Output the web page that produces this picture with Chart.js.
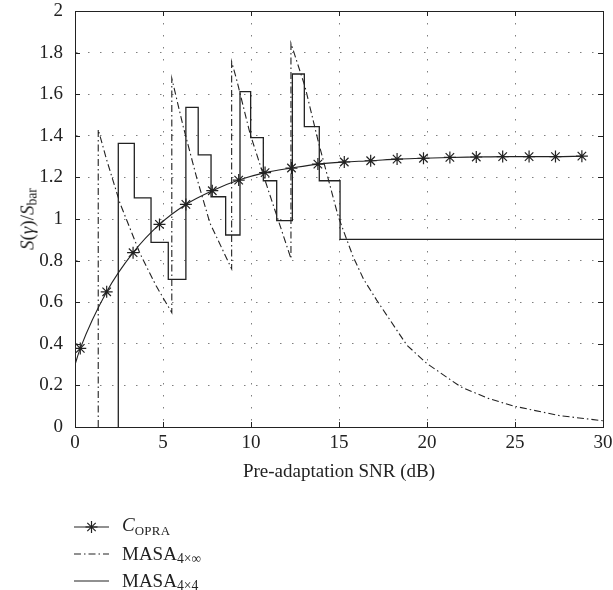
<!DOCTYPE html>
<html>
<head>
<meta charset="utf-8">
<script src="https://cdn.jsdelivr.net/npm/chart.js@4.4.1/dist/chart.umd.min.js"></script>
<style>
  html, body { margin: 0; padding: 0; background: #fff; }
  #wrap { position: relative; width: 613px; height: 590px; font-family: "Liberation Serif", serif; color: #222; }
  #chart { position: absolute; left: 0; top: 0; }
  .ytitle { position: absolute; left: 27px; top: 219px; transform: translate(-50%, -50%) rotate(-90deg); font-size: 19px; white-space: nowrap; line-height: 1; }
  .legend { position: absolute; left: 74px; top: 513px; font-size: 19px; line-height: 1; }
  .row { display: flex; align-items: center; height: 27px; }
  .row svg { margin-right: 13px; flex: none; }
  sub { font-size: 0.72em; vertical-align: -0.25em; line-height: 0; }
  .sc { font-size: 0.68em; vertical-align: -0.3em; letter-spacing: 0.3px; }
</style>
</head>
<body>
<div id="wrap">
  <canvas id="chart" width="613" height="590"></canvas>
  <div class="ytitle"><i>S</i>(<i>γ</i>)/<i>S</i><sub>bar</sub></div>
  <div class="legend">
    <div class="row">
      <svg width="35" height="14"><line x1="0" y1="7" x2="35" y2="7" stroke="#222" stroke-width="1.2"/>
        <g stroke="#222" stroke-width="1.2"><line x1="17.5" y1="1" x2="17.5" y2="13"/><line x1="11.5" y1="7" x2="23.5" y2="7"/><line x1="13.3" y1="2.8" x2="21.7" y2="11.2"/><line x1="13.3" y1="11.2" x2="21.7" y2="2.8"/></g></svg>
      <span><i>C</i><span class="sc">OPRA</span></span>
    </div>
    <div class="row">
      <svg width="35" height="14"><line x1="0" y1="7" x2="35" y2="7" stroke="#222" stroke-width="1.1" stroke-dasharray="7,3,1.5,3"/></svg>
      <span>MASA<sub>4×∞</sub></span>
    </div>
    <div class="row">
      <svg width="35" height="14"><line x1="0" y1="7" x2="35" y2="7" stroke="#222" stroke-width="1.2"/></svg>
      <span>MASA<sub>4×4</sub></span>
    </div>
  </div>
</div>
<script>
// axis ticks
const xTicks = [0, 5, 10, 15, 20, 25, 30];
const yTicks = [0, 0.2, 0.4, 0.6, 0.8, 1, 1.2, 1.4, 1.6, 1.8, 2];
const yTickLabels = ['0', '0.2', '0.4', '0.6', '0.8', '1', '1.2', '1.4', '1.6', '1.8', '2'];

// C_OPRA (first point has no marker)
const copraX = [0, 0.3, 1.8, 3.3, 4.8, 6.3, 7.8, 9.3, 10.8, 12.3, 13.8, 15.3, 16.8, 18.3, 19.8, 21.3, 22.8, 24.3, 25.8, 27.3, 28.8];
const copraY = [0.3, 0.378, 0.65, 0.838, 0.974, 1.07, 1.136, 1.187, 1.223, 1.245, 1.264, 1.274, 1.28, 1.288, 1.292, 1.296, 1.298, 1.3, 1.3, 1.3, 1.302];

// MASA 4x inf (dash-dot sawtooth)
const masaInfX = [1.32, 1.32, 1.8, 2.56, 3.69, 4.6, 5.5, 5.5, 6.15, 6.91, 7.67, 8.9, 8.9, 9.19, 9.94, 10.98, 12.27, 12.27, 13.07, 13.8, 14.96, 15.8, 16.4, 17.14, 18.85, 19.98, 21.9, 23.4, 24.9, 27.5, 30];
const masaInfY = [0, 1.43, 1.284, 1.075, 0.835, 0.68, 0.55, 1.676, 1.444, 1.2, 0.98, 0.76, 1.756, 1.668, 1.412, 1.139, 0.81, 1.845, 1.636, 1.38, 1.011, 0.819, 0.71, 0.61, 0.394, 0.306, 0.194, 0.14, 0.101, 0.055, 0.03];

// MASA 4x4 (staircase, each value holds until the next x)
const masa44X = [2.46, 2.46, 3.37, 4.32, 5.3, 6.3, 7.0, 7.73, 8.56, 9.375, 9.98, 10.7, 11.46, 12.35, 13.03, 13.88, 15.06, 30];
const masa44Y = [0, 1.364, 1.102, 0.888, 0.71, 1.537, 1.308, 1.107, 0.923, 1.612, 1.391, 1.184, 0.992, 1.697, 1.444, 1.184, 0.902, 0.902];

const toPts = (xs, ys) => xs.map((x, i) => ({ x, y: ys[i] }));
const INK = '#222';
const FONT = { family: '"Liberation Serif", serif', size: 19 };

// frame + inward ticks, MATLAB style
const framePlugin = {
  id: 'frame',
  afterDraw(chart) {
    const { ctx, chartArea: a, scales } = chart;
    ctx.save();
    ctx.strokeStyle = INK;
    ctx.lineWidth = 1;
    ctx.beginPath();
    xTicks.forEach((v) => {
      const px = Math.round(scales.x.getPixelForValue(v)) + 0.5;
      ctx.moveTo(px, a.bottom); ctx.lineTo(px, a.bottom - 5);
      ctx.moveTo(px, a.top); ctx.lineTo(px, a.top + 5);
    });
    yTicks.forEach((v) => {
      const py = Math.round(scales.y.getPixelForValue(v)) + 0.5;
      ctx.moveTo(a.left, py); ctx.lineTo(a.left + 5, py);
      ctx.moveTo(a.right, py); ctx.lineTo(a.right - 5, py);
    });
    ctx.stroke();
    ctx.strokeRect(Math.round(a.left) + 0.5, Math.round(a.top) + 0.5, Math.round(a.right - a.left), Math.round(a.bottom - a.top));
    ctx.restore();
  },
};

new Chart(document.getElementById('chart').getContext('2d'), {
  type: 'line',
  data: {
    datasets: [
      {
        label: 'C_OPRA',
        data: toPts(copraX, copraY),
        borderColor: INK,
        borderWidth: 1.1,
        cubicInterpolationMode: 'monotone',
        pointStyle: 'star',
        pointRadius: (c) => (c.dataIndex === 0 ? 0 : 6),
        pointBorderColor: INK,
        pointBorderWidth: 1.2,
        pointBackgroundColor: INK,
        fill: false,
      },
      {
        label: 'MASA4x∞',
        data: toPts(masaInfX, masaInfY),
        borderColor: INK,
        borderWidth: 1.1,
        borderDash: [7, 3, 1.5, 3],
        tension: 0,
        pointRadius: 0,
        fill: false,
      },
      {
        label: 'MASA4x4',
        data: toPts(masa44X, masa44Y),
        borderColor: INK,
        borderWidth: 1.3,
        stepped: 'before',
        pointRadius: 0,
        fill: false,
      },
    ],
  },
  options: {
    responsive: false,
    animation: false,
    devicePixelRatio: 1,
    layout: { padding: { top: 11, right: 10, bottom: 103, left: 0 } },
    plugins: { legend: { display: false }, tooltip: { enabled: false } },
    scales: {
      x: {
        type: 'linear',
        min: 0,
        max: 30,
        afterBuildTicks: (s) => { s.ticks = xTicks.map((v) => ({ value: v })); },
        afterFit: (s) => { s.height = 60; s.paddingLeft = 0; s.paddingRight = 0; },
        ticks: { font: FONT, color: INK, padding: 5, maxRotation: 0, callback: (v) => String(v) },
        grid: { color: 'rgba(0,0,0,0.5)', lineWidth: 1, drawTicks: false },
        border: { display: true, color: INK, width: 1, dash: [1.5, 10.5] },
        title: { display: true, text: 'Pre-adaptation SNR (dB)', font: FONT, color: INK, padding: { top: 4, bottom: 4 } },
      },
      y: {
        type: 'linear',
        min: 0,
        max: 2,
        afterBuildTicks: (s) => { s.ticks = yTicks.map((v) => ({ value: v })); },
        afterFit: (s) => { s.width = 75; s.paddingTop = 0; s.paddingBottom = 0; },
        ticks: { font: FONT, color: INK, padding: 12, callback: (v, i) => yTickLabels[i] },
        grid: { color: 'rgba(0,0,0,0.5)', lineWidth: 1, drawTicks: false },
        border: { display: true, color: INK, width: 1, dash: [1.5, 10.5] },
      },
    },
  },
  plugins: [framePlugin],
});
</script>
</body>
</html>
